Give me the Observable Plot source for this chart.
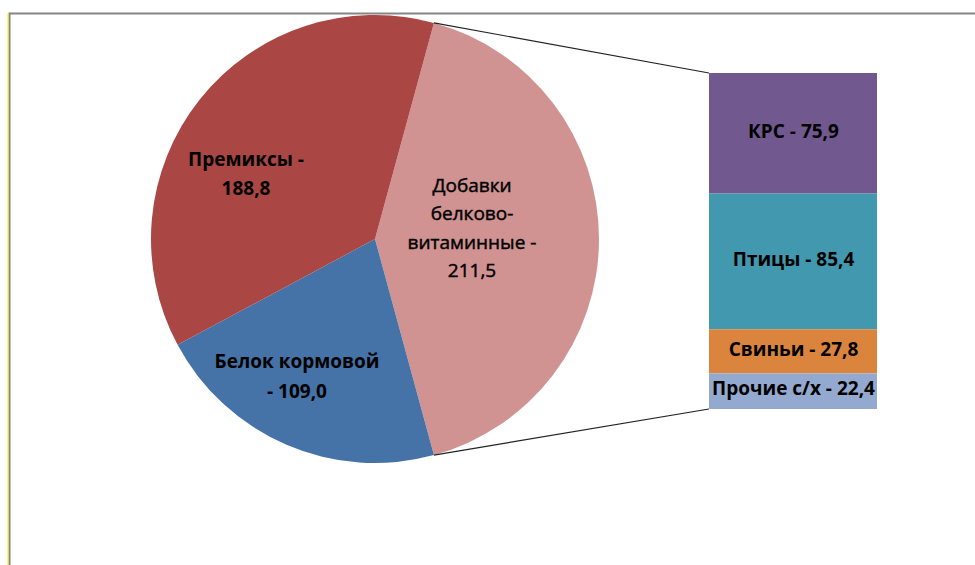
<!DOCTYPE html>
<html><head><meta charset="utf-8">
<script src="https://cdn.jsdelivr.net/npm/d3@7"></script>
<script src="https://cdn.jsdelivr.net/npm/@observablehq/plot@0.6"></script>
<style>
body{margin:0;background:#fff;}
#chart{width:975px;height:565px;}
</style>
</head><body><div id="chart"></div>
<script>
// ---- data ----
const pieNames  = ["Добавки белково-витаминные", "Белок кормовой", "Премиксы"];
const pieValues = [211.5, 109.0, 188.8];
const pieLabels = [["Добавки", "белково-", "витаминные -", "211,5"], ["Белок кормовой", "- 109,0"], ["Премиксы -", "188,8"]];
const pieColors = ["#D19392", "#4572A7", "#AA4643"];

const barNames  = ["КРС", "Птицы", "Свиньи", "Прочие с/х"];
const barValues = [75.9, 85.4, 27.8, 22.4];
const barLabels = ["КРС - 75,9", "Птицы - 85,4", "Свиньи - 27,8", "Прочие с/х - 22,4"];
const barColors = ["#71588F", "#4198AF", "#DB843D", "#93A9CF"];

// ---- layout ----
const W = 975, H = 565;
const cx = 375, cy = 239, R = 224;
const barX1 = 709, barX2 = 877, barTop = 73, barBottom = 409;
const pieLabelPos = [[472, 185, 28.5, 400, 0.45], [297, 361, 30, 700, 0], [246, 159, 29, 700, 0]];
const FONT = "'Open Sans', 'Noto Sans', sans-serif";

const barTotal = d3.sum(barValues);
// stack from bottom: last item at the bottom
const barData = [];
{
  let acc = 0;
  for (let i = barValues.length - 1; i >= 0; --i) {
    barData.unshift({name: barNames[i], label: barLabels[i], y1: acc, y2: acc + barValues[i]});
    acc += barValues[i];
  }
}

const total = d3.sum(pieValues);
const firstAngle = pieValues[0] / total * 2 * Math.PI;
const start = Math.PI / 2 - firstAngle / 2;
const arcs = d3.pie().sort(null).startAngle(start).endAngle(start + 2 * Math.PI)(pieValues);

function pieMark(index, scales) {
  const g = d3.create("svg:g");
  // frame
  g.append("path").attr("d", `M9.5,${H}V13.5H${W}`).attr("fill", "none").attr("stroke", "#858585").attr("stroke-width", 2);
  g.append("line").attr("x1", 8).attr("x2", 8).attr("y1", 13).attr("y2", H).attr("stroke", "#f0f000").attr("stroke-width", 1);
  const arc = d3.arc().innerRadius(0).outerRadius(R);
  const pg = g.append("g").attr("transform", `translate(${cx},${cy})`);
  arcs.forEach((a, i) => {
    pg.append("path").attr("d", arc(a)).attr("fill", scales.color(pieNames[i]));
  });
  // connector lines from the split slice to the bar
  const a0 = arcs[0].startAngle, a1 = arcs[0].endAngle;
  const p0 = [cx + R * Math.sin(a0), cy - R * Math.cos(a0)];
  const p1 = [cx + R * Math.sin(a1), cy - R * Math.cos(a1)];
  const bx = scales.x(barX1);
  g.append("line").attr("x1", p0[0]).attr("y1", p0[1]).attr("x2", bx).attr("y2", scales.y(barTotal))
    .attr("stroke", "#222").attr("stroke-width", 1.2);
  g.append("line").attr("x1", p1[0]).attr("y1", p1[1]).attr("x2", bx).attr("y2", scales.y(0))
    .attr("stroke", "#222").attr("stroke-width", 1.2);
  // slice labels
  pieLabels.forEach((lines, i) => {
    const [lx, ly, lh, fw, sw] = pieLabelPos[i];
    lines.forEach((t, j) => {
      const tx = g.append("text").attr("x", lx).attr("y", ly + j * lh).attr("dy", "0.35em")
        .attr("text-anchor", "middle").attr("font-family", FONT).attr("font-size", 19)
        .attr("font-weight", fw).attr("fill", "#000").text(t);
      if (sw) tx.attr("stroke", "#000").attr("stroke-width", sw);
    });
  });
  return g.node();
}

const chart = Plot.plot({
  width: W, height: H,
  margin: 0,
  x: {type: "identity", axis: null},
  y: {domain: [0, barTotal], range: [barBottom, barTop], axis: null},
  color: {domain: [...pieNames, ...barNames], range: [...pieColors, ...barColors], legend: false},
  style: {background: "#fff", fontFamily: FONT},
  marks: [
    pieMark,
    Plot.rect(barData, {x1: barX1, x2: barX2, y1: "y1", y2: "y2", fill: "name"}),
    Plot.text(barData, {
      x: (barX1 + barX2) / 2,
      y: d => (d.y1 + d.y2) / 2 + 1.5,
      text: "label", fill: "#000", fontSize: 19, fontWeight: 700, fontFamily: FONT
    })
  ]
});
document.getElementById("chart").append(chart);
</script>
</body></html>
